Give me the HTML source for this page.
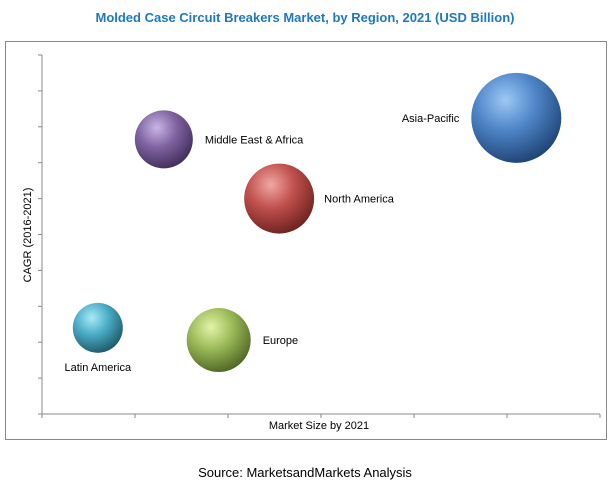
<!DOCTYPE html>
<html><head><meta charset="utf-8"><style>
body{margin:0;background:#fff;font-family:"Liberation Sans",sans-serif;}
svg text{font-family:"Liberation Sans",sans-serif;}
</style></head><body>
<svg id="c" width="611" height="491">
<defs>
<radialGradient id="gAP" cx="0.38" cy="0.3" r="0.75"><stop offset="0" stop-color="#9cc8f5"/><stop offset="0.45" stop-color="#4f86c8"/><stop offset="1" stop-color="#1c3f70"/></radialGradient>
<radialGradient id="gNA" cx="0.38" cy="0.3" r="0.75"><stop offset="0" stop-color="#f0a8a5"/><stop offset="0.45" stop-color="#c0504d"/><stop offset="1" stop-color="#6a1f1d"/></radialGradient>
<radialGradient id="gME" cx="0.38" cy="0.3" r="0.75"><stop offset="0" stop-color="#c9b6e4"/><stop offset="0.45" stop-color="#8064a2"/><stop offset="1" stop-color="#3e2b57"/></radialGradient>
<radialGradient id="gEU" cx="0.38" cy="0.3" r="0.75"><stop offset="0" stop-color="#e3f3a8"/><stop offset="0.45" stop-color="#9bbb59"/><stop offset="1" stop-color="#4c6222"/></radialGradient>
<radialGradient id="gLA" cx="0.38" cy="0.3" r="0.75"><stop offset="0" stop-color="#a8eaf8"/><stop offset="0.45" stop-color="#4bacc6"/><stop offset="1" stop-color="#1b5564"/></radialGradient>
</defs>
<text x="305" y="22" text-anchor="middle" font-size="13" font-weight="bold" fill="#1f78c1">Molded Case Circuit Breakers Market, by Region, 2021 (USD Billion)</text>
<rect x="5.5" y="41.5" width="601" height="398" fill="none" stroke="#888"/>
<text transform="translate(31,235) rotate(-90)" text-anchor="middle" font-size="11" fill="#000">CAGR (2016-2021)</text>
<text x="319" y="429" text-anchor="middle" font-size="11" fill="#000">Market Size by 2021</text>
<text x="305" y="477" text-anchor="middle" font-size="13" fill="#000">Source: MarketsandMarkets Analysis</text>
<g id="axes"></g><g id="bubbles"></g>
</svg>
<script>
const regions=["Latin America","Europe","Middle East & Africa","North America","Asia-Pacific"];
const xVals=[0.6,1.9,1.31,2.55,5.1];
const yVals=[2.4,2.06,7.65,6.0,8.25];
const sizes=[25,32,29,35,45];
const xTicks=[0,1,2,3,4,5,6];
const yTicks=[0,1,2,3,4,5,6,7,8,9,10];
const grads=["gLA","gEU","gME","gNA","gAP"];
const X0=42,X1=600,Y0=414,Y1=55;
const sx=v=>X0+(v-0)/6*(X1-X0);
const sy=v=>Y0-(v-0)/10*(Y0-Y1);
const NS="http://www.w3.org/2000/svg";
const ax=document.getElementById('axes'),bb=document.getElementById('bubbles');
function mk(t,a,p){const e=document.createElementNS(NS,t);for(const k in a)e.setAttribute(k,a[k]);p.appendChild(e);return e;}
let l=mk('line',{x1:X0-3,y1:Y0,x2:X1,y2:Y0,stroke:'#888'},ax);


l=mk('line',{x1:X0,y1:Y0+4,x2:X0,y2:Y1,stroke:'#888'},ax);


xTicks.forEach(t=>{const e=mk('line',{x1:sx(t),y1:Y0,x2:sx(t),y2:Y0+4,stroke:'#888'},ax);

});
yTicks.forEach(t=>{const e=mk('line',{x1:X0-4,y1:sy(t),x2:X0,y2:sy(t),stroke:'#888'},ax);

});
const lab=[{dx:0,dy:1,a:'middle',oy:18},{dx:1,dy:0,a:'start',ox:12},{dx:1,dy:0,a:'start',ox:12},{dx:1,dy:0,a:'start',ox:10},{dx:-1,dy:0,a:'end',ox:-12}];
regions.forEach((r,i)=>{
 const cx=sx(xVals[i]),cy=sy(yVals[i]),rr=sizes[i];
 const c=mk('circle',{cx:cx,cy:cy,r:rr,fill:'url(#'+grads[i]+')'},bb);
 
 
 const L=lab[i];
 let tx,ty;
 if(L.dy){tx=cx;ty=cy+rr+L.oy;}else{tx=cx+L.dx*rr+L.ox;ty=cy+4;}
 const t=mk('text',{x:tx,y:ty,'text-anchor':L.a,'font-size':11,fill:'#000'},bb);
 t.textContent=r;
 
 
});
</script>
</body></html>
